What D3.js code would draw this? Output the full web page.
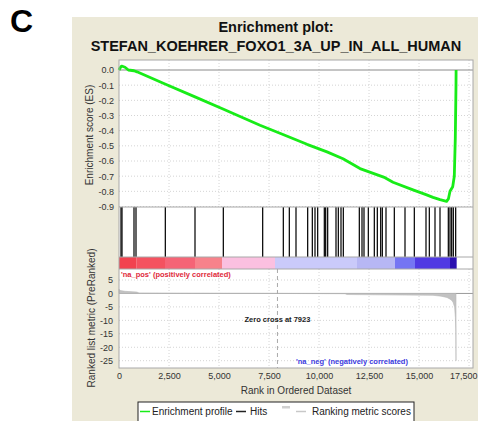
<!DOCTYPE html>
<html>
<head>
<meta charset="utf-8">
<script src="https://cdn.jsdelivr.net/npm/d3@7"></script>
<style>
  body { margin: 0; background: #fff; }
  svg { display: block; font-family: "Liberation Sans", Arial, sans-serif; }
</style>
</head>
<body>
<div id="chart"></div>
<script>
// ---- data ----
const titleLines = ["Enrichment plot:", "STEFAN_KOEHRER_FOXO1_3A_UP_IN_ALL_HUMAN"];
const esTicks = [0, -0.1, -0.2, -0.3, -0.4, -0.5, -0.6, -0.7, -0.8, -0.9];
const metricTicks = [5, 0, -5, -10, -15, -20, -25];
const rankTicks = [0, 2500, 5000, 7500, 10000, 12500, 15000, 17500];
const zeroCross = 7923;

// running enrichment score [rank, ES]
const esRank = [0, 60, 135, 300, 470, 750, 900, 2300, 3800, 5200, 7050, 8200, 9400, 10400,
  11200, 12050, 13300, 13700, 14700, 15350, 15700, 16050, 16380, 16470, 16550, 16685,
  16765, 16815, 16850, 16855];
const esValue = [0, 0.015, 0.026, 0.018, 0.0, -0.005, -0.012, -0.092, -0.177, -0.257, -0.364,
  -0.425, -0.49, -0.54, -0.585, -0.65, -0.71, -0.74, -0.79, -0.822, -0.84, -0.855, -0.866,
  -0.85, -0.8, -0.77, -0.7, -0.45, -0.1, 0];

// positions of the gene set members in the ranked list
const hits = [100, 150, 750, 850, 2317, 3800, 5217, 7183, 8217, 8517, 8850, 9433, 9667,
  9800, 9933, 10267, 10333, 10433, 10850, 10967, 11100, 11217, 12017, 12150, 12250, 12467,
  12767, 12917, 13083, 13167, 13350, 13767, 14300, 14767, 15350, 15517, 15800, 16050,
  16467, 16550, 16633, 16717, 16833];

// colour bar bins (rank edges) and their colours
const binEdges = [0, 883, 2300, 3800, 5150, 7800, 11900, 13800, 14800, 16550, 16883];
const binColors = ["#f2424f", "#f45260", "#f56476", "#f7828b", "#fbc0e0", "#cacafa",
  "#b7b7f4", "#7575f3", "#5039e3", "#2a10b0"];

// ranked list metric [rank, value]
const metricRank = [0, 50, 300, 900, 1000, 3000, 7923, 11300, 11400, 15700, 16100, 16400,
  16600, 16700, 16780, 16820, 16840, 16850, 16851];
const metricValue = [1.6, 1.1, 0.8, 0.5, 0.15, 0.08, 0, -0.1, -0.4, -0.7, -1.0, -1.5,
  -2.3, -3.2, -5, -9, -14, -25, 0];

const legendItems = ["Enrichment profile", "Hits", "Ranking metric scores"];

// ---- layout ----
const W = 478, H = 421;
const L = 119, R = 473;
const esTop = 60, esBot = 207, hitBot = 257, barBot = 269, mBot = 368;

const svg = d3.select("#chart").append("svg").attr("width", W).attr("height", H);

svg.append("rect").attr("x", 72).attr("y", 17).attr("width", W - 72).attr("height", H - 17)
  .attr("fill", "#ece9d8");

svg.append("text").attr("x", 10).attr("y", 32).attr("font-size", 32).attr("font-weight", "bold")
  .text("C");

svg.selectAll("text.title").data(titleLines).join("text").attr("class", "title")
  .attr("x", 276).attr("y", (d, i) => 32 + i * 19)
  .attr("text-anchor", "middle").attr("font-size", 14.5).attr("font-weight", "bold")
  .attr("fill", "#111").text(d => d);

const x = d3.scaleLinear().domain([0, 17700]).range([L, R]);
const yES = d3.scaleLinear().domain([-0.9, 0]).range([206.5, 70]);
const yM = d3.scaleLinear().domain([-25, 5]).range([360.7, 280]);

// panel backgrounds
svg.append("rect").attr("x", L).attr("y", esTop).attr("width", R - L).attr("height", mBot - esTop)
  .attr("fill", "#fff");

// grid
const grid = svg.append("g").attr("stroke", "#d4d4d4").attr("stroke-dasharray", "1,2");
grid.selectAll("line.v1").data(rankTicks.slice(1)).join("line")
  .attr("x1", d => x(d)).attr("x2", d => x(d)).attr("y1", esTop).attr("y2", esBot);
grid.selectAll("line.v2").data(rankTicks.slice(1)).join("line").attr("class", "v2")
  .attr("x1", d => x(d)).attr("x2", d => x(d)).attr("y1", barBot).attr("y2", mBot);
grid.selectAll("line.h1").data(esTicks.slice(1)).join("line").attr("class", "h1")
  .attr("x1", L).attr("x2", R).attr("y1", d => yES(d)).attr("y2", d => yES(d));
grid.selectAll("line.h2").data(metricTicks.filter(d => d !== 0)).join("line").attr("class", "h2")
  .attr("x1", L).attr("x2", R).attr("y1", d => yM(d)).attr("y2", d => yM(d));

// zero lines
svg.append("line").attr("x1", L).attr("x2", R).attr("y1", yES(0)).attr("y2", yES(0))
  .attr("stroke", "#8a8a8a");
svg.append("line").attr("x1", L).attr("x2", R).attr("y1", yM(0)).attr("y2", yM(0))
  .attr("stroke", "#9a9a9a");

// ranking metric area
const area = d3.area().x((d, i) => x(metricRank[i])).y0(yM(0)).y1(d => yM(d));
svg.append("path").datum(metricValue).attr("d", area).attr("fill", "#c2c2c2")
  .attr("stroke", "#b8b8b8").attr("stroke-width", 0.6);

// zero cross
svg.append("line").attr("x1", x(zeroCross)).attr("x2", x(zeroCross)).attr("y1", barBot).attr("y2", mBot)
  .attr("stroke", "#aaa").attr("stroke-dasharray", "4,3");
svg.append("text").attr("x", x(zeroCross)).attr("y", 322).attr("text-anchor", "middle")
  .attr("font-size", 7.5).attr("font-weight", "bold").attr("fill", "#222")
  .text("Zero cross at " + zeroCross);

svg.append("text").attr("x", 121).attr("y", 276.5).attr("font-size", 7.5).attr("font-weight", "bold")
  .attr("fill", "#e0283a").text("'na_pos' (positively correlated)");
svg.append("text").attr("x", 296).attr("y", 364).attr("font-size", 7.5).attr("font-weight", "bold")
  .attr("fill", "#3a3ae0").text("'na_neg' (negatively correlated)");

// colour bar
svg.selectAll("rect.bin").data(binColors).join("rect").attr("class", "bin")
  .attr("x", (d, i) => x(binEdges[i])).attr("width", (d, i) => x(binEdges[i + 1]) - x(binEdges[i]))
  .attr("y", hitBot).attr("height", barBot - hitBot).attr("fill", d => d);

// hits
svg.selectAll("line.hit").data(hits).join("line").attr("class", "hit")
  .attr("x1", d => x(d)).attr("x2", d => x(d)).attr("y1", esBot).attr("y2", hitBot)
  .attr("stroke", "#111").attr("stroke-width", 1.3);

// ES curve
const line = d3.line().x((d, i) => x(esRank[i])).y(d => yES(d));
svg.append("path").datum(esValue).attr("d", line).attr("fill", "none")
  .attr("stroke", "#18ec18").attr("stroke-width", 2.8).attr("stroke-linejoin", "round");

// panel separators and border
const sep = svg.append("g").attr("stroke", "#a8a8a8").attr("fill", "none");
[esBot, hitBot, barBot].forEach(yy => sep.append("line").attr("x1", L).attr("x2", R)
  .attr("y1", yy).attr("y2", yy));
sep.append("rect").attr("x", L).attr("y", esTop).attr("width", R - L).attr("height", mBot - esTop);

// axes
const tickStyle = g => {
  g.select(".domain").remove();
  g.selectAll("text").attr("font-size", 9).attr("fill", "#333").attr("font-family", "Liberation Sans, Arial, sans-serif");
};
svg.append("g").attr("transform", `translate(${L},0)`)
  .call(d3.axisLeft(yES).tickValues(esTicks).tickFormat(d => d.toFixed(1)).tickSize(0).tickPadding(5))
  .call(tickStyle);
svg.append("g").attr("transform", `translate(${L},0)`)
  .call(d3.axisLeft(yM).tickValues(metricTicks).tickFormat(d => String(d)).tickSize(0).tickPadding(6))
  .call(tickStyle);
const xAxis = svg.append("g").attr("transform", `translate(0,${mBot})`)
  .call(d3.axisBottom(x).tickValues(rankTicks).tickFormat(d3.format(",")).tickSize(0).tickPadding(5))
  .call(tickStyle);
// the last label sits against the page edge
xAxis.selectAll(".tick text").filter(d => d === 17500).attr("text-anchor", "end")
  .attr("dx", W - 1 - x(17500));

svg.append("text").attr("transform", "translate(93,135) rotate(-90)").attr("text-anchor", "middle")
  .attr("font-size", 10).attr("fill", "#333").text("Enrichment score (ES)");
svg.append("text").attr("transform", "translate(95,318) rotate(-90)").attr("text-anchor", "middle")
  .attr("font-size", 10).attr("fill", "#333").text("Ranked list metric (PreRanked)");
svg.append("text").attr("x", 296).attr("y", 394).attr("text-anchor", "middle")
  .attr("font-size", 10).attr("fill", "#333").text("Rank in Ordered Dataset");

// legend
const lg = svg.append("g");
lg.append("rect").attr("x", 138).attr("y", 402).attr("width", 276).attr("height", 30)
  .attr("fill", "#fff").attr("stroke", "#222").attr("stroke-width", 1);
const lx = [140, 236, 296], tx = [152, 250, 312], lc = ["#18ec18", "#222", "#c8c8c8"];
lg.selectAll("line.li").data(legendItems).join("line").attr("class", "li")
  .attr("x1", (d, i) => lx[i]).attr("x2", (d, i) => lx[i] + 10).attr("y1", 411.5).attr("y2", 411.5)
  .attr("stroke", (d, i) => lc[i]).attr("stroke-width", 1.5);
lg.append("rect").attr("x", 282).attr("y", 406).attr("width", 8).attr("height", 2.5).attr("fill", "#d0d0d0");
lg.selectAll("text.lt").data(legendItems).join("text").attr("class", "lt")
  .attr("x", (d, i) => tx[i]).attr("y", 415).attr("font-size", 10).attr("fill", "#222").text(d => d);
</script>
</body>
</html>
